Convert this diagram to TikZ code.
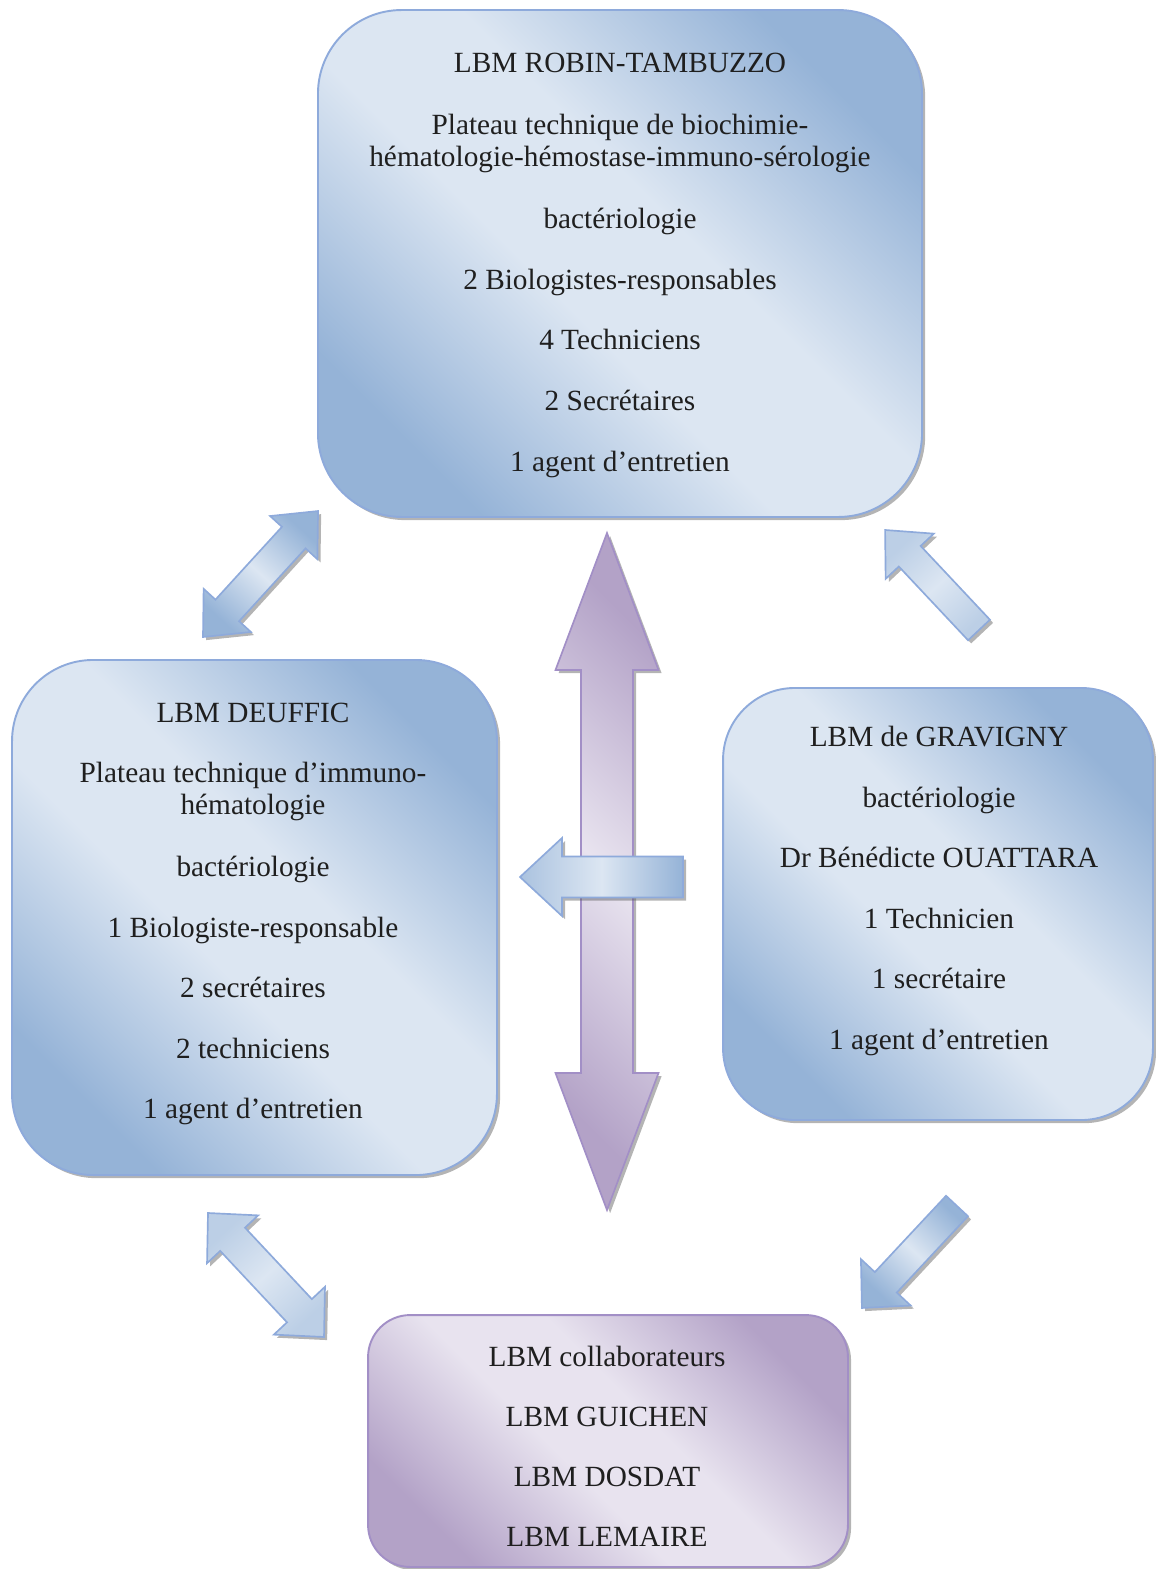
\documentclass[tikz,border=0pt]{standalone}
\usepackage{fontspec}
\setmainfont{Liberation Serif}
\usetikzlibrary{shadows,calc}
\definecolor{bdark}{HTML}{95B3D7}
\definecolor{blight}{HTML}{DCE6F2}
\definecolor{bedge}{HTML}{8EAADB}
\definecolor{pdark}{HTML}{B3A2C7}
\definecolor{plight}{HTML}{E8E3EF}
\definecolor{pedge}{HTML}{A28FC6}
\pgfdeclareverticalshading{bluegrad}{100bp}{color(0bp)=(bdark); color(25bp)=(bdark); color(44bp)=(blight); color(56bp)=(blight); color(75bp)=(bdark); color(100bp)=(bdark)}
\pgfdeclareverticalshading{purplegrad}{100bp}{color(0bp)=(pdark); color(25bp)=(pdark); color(44bp)=(plight); color(56bp)=(plight); color(75bp)=(pdark); color(100bp)=(pdark)}
\tikzset{
  shad/.style={drop shadow={shadow xshift=1.3pt, shadow yshift=-1.3pt, opacity=.45, fill=gray!70!black}},
  bluebox/.style={shape=rectangle, draw=bedge, line width=0.8pt, shad,
    shading=bluegrad, shading angle=-45},
  purplebox/.style={shape=rectangle, draw=pedge, line width=0.8pt, shad,
    shading=purplegrad, shading angle=-45},
  txt/.style={font=\fontsize{12.25}{14}\selectfont, inner sep=0pt, anchor=base, text=black!88},
  darrow/.style={draw=bedge, line width=0.7pt, shad, top color=bdark, bottom color=bdark, middle color=blight},
  larrow/.style={draw=bedge, line width=0.7pt, shad, top color=bdark!45!blight, bottom color=bdark!45!blight, middle color=blight},
}
% single block arrow: style, tail coordinate, angle, length, shaft half-width, head half-width, head length
\newcommand\blocksingle[7]{%
  \path[#1] ($(#2)+({#3+90}:#5)$) -- ($(#2)+(#3:{#4-#7})+({#3+90}:#5)$)
    -- ($(#2)+(#3:{#4-#7})+({#3+90}:#6)$) -- ($(#2)+(#3:#4)$)
    -- ($(#2)+(#3:{#4-#7})+({#3-90}:#6)$) -- ($(#2)+(#3:{#4-#7})+({#3-90}:#5)$)
    -- ($(#2)+({#3-90}:#5)$) -- cycle;}
% double block arrow
\newcommand\blockdouble[7]{%
  \path[#1] (#2) -- ($(#2)+(#3:#7)+({#3+90}:#6)$) -- ($(#2)+(#3:#7)+({#3+90}:#5)$)
    -- ($(#2)+(#3:{#4-#7})+({#3+90}:#5)$) -- ($(#2)+(#3:{#4-#7})+({#3+90}:#6)$)
    -- ($(#2)+(#3:#4)$)
    -- ($(#2)+(#3:{#4-#7})+({#3-90}:#6)$) -- ($(#2)+(#3:{#4-#7})+({#3-90}:#5)$)
    -- ($(#2)+(#3:#7)+({#3-90}:#5)$) -- ($(#2)+(#3:#7)+({#3-90}:#6)$) -- cycle;}
\begin{document}
\begin{tikzpicture}[x=0.418pt, y=-0.418pt]
\useasboundingbox (0,0) rectangle (1155,1569);

% boxes
\node[bluebox, minimum width=252.5pt, minimum height=211.9pt, rounded corners=35pt] (top) at (620,263.5) {};
\node[bluebox, minimum width=202.7pt, minimum height=215.3pt, rounded corners=33.9pt] (left) at (254.5,917.5) {};
\node[bluebox, minimum width=179.7pt, minimum height=180.6pt, rounded corners=30pt] (right) at (938,904) {};
\node[purplebox, minimum width=200.6pt, minimum height=105.3pt, rounded corners=17.6pt] (bottom) at (608,1441) {};

% texts
\foreach \y/\t [count=\i] in {73/{LBM ROBIN-TAMBUZZO}, 135/{Plateau technique de biochimie-}, 167/{hématologie-hémostase-immuno-sérologie}, 228/{bactériologie}, 289/{2 Biologistes-responsables}, 349/{4 Techniciens}, 410/{2 Secrétaires}, 471/{1 agent d’entretien}}
  \node[txt] (top-\i) at (620,\y) {\t};
\foreach \y/\t [count=\i] in {722/{LBM DEUFFIC}, 782/{Plateau technique d’immuno-}, 814/{hématologie}, 876/{bactériologie}, 937/{1 Biologiste-responsable}, 997/{2 secrétaires}, 1058/{2 techniciens}, 1118/{1 agent d’entretien}}
  \node[txt] (left-\i) at (253,\y) {\t};
\foreach \y/\t [count=\i] in {746/{LBM de GRAVIGNY}, 807/{bactériologie}, 867/{Dr Bénédicte OUATTARA}, 928/{1 Technicien}, 988/{1 secrétaire}, 1049/{1 agent d’entretien}}
  \node[txt] (right-\i) at (939,\y) {\t};
\foreach \y/\t [count=\i] in {1366/{LBM collaborateurs}, 1426/{LBM GUICHEN}, 1486/{LBM DOSDAT}, 1546/{LBM LEMAIRE}}
  \node[txt] (bottom-\i) at (607,\y) {\t};

% arrow anchor coordinates
\coordinate (a1) at (203,637);
\coordinate (a2) at (979,630);
\coordinate (a3) at (607,1210);
\coordinate (a4) at (683,877);
\coordinate (a5) at (208,1213);
\coordinate (a6) at (957,1206);

% big vertical purple double arrow
\blockdouble{draw=pedge, line width=0.7pt, shad, top color=pdark, bottom color=pdark, middle color=plight, shading angle=-45}{a3}{-90}{677}{26}{51.5}{137}
% horizontal arrow to the left
\blocksingle{draw=bedge, line width=0.7pt, shad, left color=bdark!70!blight, right color=bdark, middle color=blight}{a4}{180}{163}{20.5}{39}{42}
% diagonal arrows
\blockdouble{darrow, shading angle=-42}{a1}{-47.6}{170.6}{16}{32}{36}
\blocksingle{larrow, shading angle=43}{a2}{-133.2}{137.2}{15}{33}{36}
\blockdouble{larrow, shading angle=43}{a5}{46.9}{169.8}{17}{35}{36}
\blocksingle{darrow, shading angle=-43}{a6}{133}{139.4}{15}{34}{35}
\end{tikzpicture}
\end{document}
